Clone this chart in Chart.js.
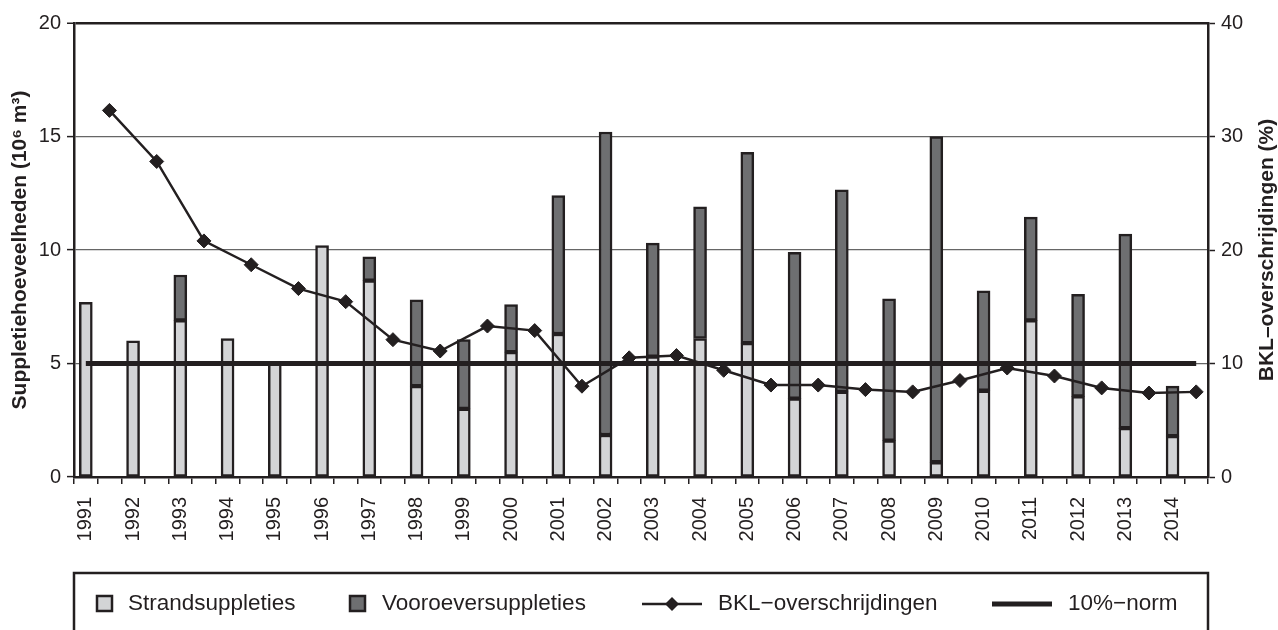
<!DOCTYPE html>
<html>
<head>
<meta charset="utf-8">
<script src="https://cdn.jsdelivr.net/npm/chart.js@4/dist/chart.umd.min.js"></script>
<style>
  html, body { margin: 0; padding: 0; background: #fff; }
  #wrap { position: relative; width: 1278px; height: 630px; }
</style>
</head>
<body>
<div id="wrap"><canvas id="suppChart"></canvas></div>
<script>
// data
const years = ["1991","1992","1993","1994","1995","1996","1997","1998","1999","2000","2001","2002",
  "2003","2004","2005","2006","2007","2008","2009","2010","2011","2012","2013","2014"];
const strand = [7.7, 6.0, 6.9, 6.1, 5.0, 10.2, 8.65, 4.0, 3.0, 5.5, 6.3, 1.85,
  5.3, 6.1, 5.9, 3.45, 3.75, 1.6, 0.65, 3.8, 6.9, 3.55, 2.15, 1.8];
const vooroever = [null, null, 2.0, null, null, null, 1.05, 3.8, 3.05, 2.1, 6.1, 13.35,
  5.0, 5.8, 8.4, 6.45, 8.9, 6.25, 14.35, 4.4, 4.55, 4.5, 8.55, 2.2];
const bkl = [32.3, 27.8, 20.8, 18.7, 16.6, 15.45, 12.1, 11.1, 13.3, 12.9, 8.0, 10.5,
  10.7, 9.4, 8.1, 8.1, 7.7, 7.5, 8.5, 9.6, 8.9, 7.85, 7.4, 7.5];
const norm = 10;
const leftTicks = [0, 5, 10, 15, 20];
const rightTicks = [0, 10, 20, 30, 40];

const INK = "#231f20";
const LIGHT = "#d3d4d6";
const DARK = "#6e6f71";
const FONT = '"Liberation Sans", Arial, Helvetica, sans-serif';

// every year takes two slots: bar in the first, line point in the second
const slots = [];
const strandSlots = [];
const voorSlots = [];
const bklSlots = [];
years.forEach((y, i) => {
  slots.push(y, "");
  strandSlots.push(strand[i], null);
  voorSlots.push(vooroever[i], null);
  bklSlots.push(null, bkl[i]);
});
const normSlots = slots.map(() => norm);

// axis titles + boxed legend underneath
const extras = {
  id: "extras",
  afterDraw(chart) {
    const { ctx, chartArea } = chart;
    const midY = (chartArea.top + chartArea.bottom) / 2;
    ctx.save();
    ctx.fillStyle = INK;
    ctx.textAlign = "center";
    ctx.textBaseline = "middle";
    ctx.font = "bold 21px " + FONT;

    ctx.save();
    ctx.translate(20, midY);
    ctx.rotate(-Math.PI / 2);
    ctx.fillText("Suppletiehoeveelheden (10\u2076 m\u00b3)", 0, 0);
    ctx.restore();

    ctx.save();
    ctx.translate(1267, midY);
    ctx.rotate(-Math.PI / 2);
    ctx.fillText("BKL\u2013overschrijdingen (%)", 0, 0);
    ctx.restore();

    // legend frame
    ctx.strokeStyle = INK;
    ctx.lineWidth = 2.5;
    ctx.strokeRect(74, 573, 1134, 80);

    const ly = 604;
    ctx.font = "22.5px " + FONT;
    ctx.textAlign = "left";
    ctx.lineWidth = 2.5;

    ctx.fillStyle = LIGHT;
    ctx.fillRect(97, ly - 8, 15, 15);
    ctx.strokeRect(97, ly - 8, 15, 15);
    ctx.fillStyle = INK;
    ctx.fillText("Strandsuppleties", 128, ly);

    ctx.fillStyle = DARK;
    ctx.fillRect(350, ly - 8, 15, 15);
    ctx.strokeRect(350, ly - 8, 15, 15);
    ctx.fillStyle = INK;
    ctx.fillText("Vooroeversuppleties", 382, ly);

    ctx.beginPath();
    ctx.moveTo(642, ly);
    ctx.lineTo(702, ly);
    ctx.stroke();
    ctx.beginPath();
    ctx.moveTo(672, ly - 7);
    ctx.lineTo(679, ly);
    ctx.lineTo(672, ly + 7);
    ctx.lineTo(665, ly);
    ctx.closePath();
    ctx.fill();
    ctx.fillText("BKL\u2212overschrijdingen", 718, ly);

    ctx.lineWidth = 5;
    ctx.beginPath();
    ctx.moveTo(992, ly);
    ctx.lineTo(1052, ly);
    ctx.stroke();
    ctx.fillText("10%\u2212norm", 1068, ly);
    ctx.restore();
  }
};

new Chart(document.getElementById("suppChart"), {
  data: {
    labels: slots,
    datasets: [
      {
        type: "line", label: "BKL\u2212overschrijdingen", data: bklSlots, yAxisID: "y1",
        borderColor: INK, borderWidth: 2.5, backgroundColor: INK,
        pointStyle: "rectRot", pointRadius: 7, pointBorderWidth: 1,
        spanGaps: true, tension: 0, order: 1
      },
      {
        type: "line", label: "10%\u2212norm", data: normSlots, yAxisID: "y1",
        borderColor: INK, borderWidth: 5, pointRadius: 0, order: 2
      },
      {
        type: "bar", label: "Strandsuppleties", data: strandSlots, yAxisID: "y", stack: "s",
        backgroundColor: LIGHT, borderColor: INK, borderWidth: 2.5, borderSkipped: false,
        barThickness: 13, order: 3
      },
      {
        type: "bar", label: "Vooroeversuppleties", data: voorSlots, yAxisID: "y", stack: "s",
        backgroundColor: DARK, borderColor: INK, borderWidth: 2.5, borderSkipped: false,
        barThickness: 13, order: 3
      }
    ]
  },
  options: {
    responsive: true,
    maintainAspectRatio: false,
    animation: false,
    layout: { padding: { top: 23, left: 0, right: 0, bottom: 0 } },
    plugins: { legend: { display: false }, tooltip: { enabled: false } },
    scales: {
      x: {
        type: "category",
        stacked: true,
        offset: true,
        afterFit: (s) => { s.height = 153; },
        border: { color: INK, width: 2.5 },
        grid: { offset: true, drawOnChartArea: false, tickLength: 7, color: INK, lineWidth: 1.5 },
        ticks: {
          autoSkip: false, maxRotation: 90, minRotation: 90, padding: 13,
          color: INK, font: { family: FONT, size: 20 }
        }
      },
      y: {
        position: "left",
        stacked: true,
        min: 0, max: 20,
        afterFit: (s) => { s.width = 74; },
        afterBuildTicks: (s) => { s.ticks = leftTicks.map(v => ({ value: v })); },
        border: { color: INK, width: 2.5 },
        grid: {
          color: (c) => c.tick && c.tick.value === 20 ? INK : "#666",
          lineWidth: (c) => c.tick && c.tick.value === 20 ? 2.5 : 1.2,
          tickColor: INK, tickWidth: 1.5, tickLength: 7
        },
        ticks: { padding: 6, color: INK, font: { family: FONT, size: 20 } }
      },
      y1: {
        position: "right",
        min: 0, max: 40,
        afterFit: (s) => { s.width = 70; },
        afterBuildTicks: (s) => { s.ticks = rightTicks.map(v => ({ value: v })); },
        border: { color: INK, width: 2.5 },
        grid: { drawOnChartArea: false, tickColor: INK, tickWidth: 1.5, tickLength: 7 },
        ticks: { padding: 6, color: INK, font: { family: FONT, size: 20 } }
      }
    }
  },
  plugins: [extras]
});
</script>
</body>
</html>
